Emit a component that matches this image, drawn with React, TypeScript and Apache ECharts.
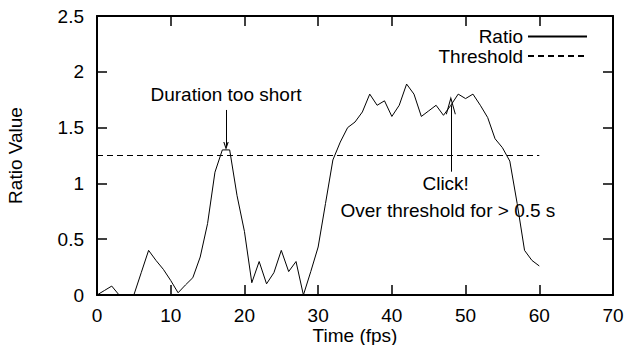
import React, { useEffect, useRef } from "react";
import * as echarts from "echarts";

const TIME = [
  0, 1, 2, 3, 4, 5, 6, 7, 8, 9, 10, 11, 12, 13, 14, 15, 16, 17, 18, 19, 20,
  21, 22, 23, 24, 25, 26, 27, 28, 29, 30, 31, 32, 33, 34, 35, 36, 37, 38, 39, 40,
  41, 42, 43, 44, 45, 46, 47, 48, 49, 50, 51, 52, 53, 54, 55, 56, 57, 58, 59, 60,
];
const RATIO = [
  0, 0.04, 0.08, 0, 0, 0, 0.2, 0.4, 0.31, 0.23, 0.13, 0.02, 0.09, 0.155, 0.34, 0.64, 1.1, 1.3, 1.3, 0.89, 0.57,
  0.11, 0.3, 0.1, 0.2, 0.4, 0.21, 0.3, 0, 0.21, 0.43, 0.82, 1.21, 1.37, 1.5, 1.55, 1.64, 1.8, 1.7, 1.74, 1.6,
  1.7, 1.89, 1.8, 1.6, 1.65, 1.7, 1.61, 1.7, 1.8, 1.76, 1.8, 1.7, 1.59, 1.4, 1.32, 1.2, 0.82, 0.4, 0.31, 0.26,
];
const THRESHOLD_X = [0, 60];
const THRESHOLD_VALUE = 1.25;

const ANNOTATIONS = [
  { text: "Duration too short", x: 17.5, y: 1.795 },
  { text: "Click!", x: 47.3, y: 0.995 },
  { text: "Over threshold for > 0.5 s", x: 47.6, y: 0.753 },
];
const ARROWS = [
  { x: 17.5, from: 1.658, to: 1.335, small: true },
  { x: 48, from: 1.105, to: 1.7, small: false },
];

const FONT = "'Liberation Sans', Arial, Helvetica, sans-serif";
const FS = 19;

const SMALL_HEAD = "path://M5,0 L10,18 L8,18 L5,7.2 L2,18 L0,18 Z";
const BIG_HEAD = "path://M5,0 L10,18 L9,18 L5,3.6 L1,18 L0,18 Z";

export default function App() {
  const ref = useRef<HTMLDivElement>(null);
  useEffect(() => {
    if (!ref.current) return;
    const chart = echarts.init(ref.current, undefined, { renderer: "svg" });
    const textStyle = { color: "#000", fontSize: FS, fontFamily: FONT };
    const axisLine = { show: true, onZero: false, lineStyle: { color: "#000", width: 2 } };
    const axisTick = { show: true, inside: true, length: 10, lineStyle: { color: "#000", width: 1.5 } };
    const legendCommon = {
      right: 36,
      padding: 0,
      orient: "vertical",
      align: "right",
      itemWidth: 59,
      itemHeight: 14,
      textStyle,
      selectedMode: false,
      itemStyle: { color: "rgba(0,0,0,0)", borderWidth: 0, opacity: 0 },
    };
    chart.setOption({
      animation: false,
      backgroundColor: "#fff",
      textStyle: { fontFamily: FONT },
      grid: { left: 97, right: 11, top: 16, bottom: 50, containLabel: false, outerBoundsMode: "none" },
      legend: [
        { ...legendCommon, data: ["Ratio"], top: 27 },
        { ...legendCommon, data: ["Threshold"], top: 46.5 },
      ],
      xAxis: [
        {
          type: "value",
          position: "bottom",
          min: 0,
          max: 70,
          interval: 10,
          axisLine,
          axisTick,
          splitLine: { show: false },
          axisLabel: { ...textStyle, margin: 12.5, lineHeight: 15 },
          name: "Time (fps)",
          nameLocation: "middle",
          nameGap: 32.5,
          nameMoveOverlap: false,
          nameTextStyle: { ...textStyle, lineHeight: 15 },
        },
        {
          type: "value",
          position: "top",
          min: 0,
          max: 70,
          interval: 10,
          axisLine,
          axisTick,
          splitLine: { show: false },
          axisLabel: { show: false },
        },
      ],
      yAxis: [
        {
          type: "value",
          position: "left",
          min: 0,
          max: 2.5,
          interval: 0.5,
          axisLine,
          axisTick,
          splitLine: { show: false },
          axisLabel: { ...textStyle, margin: 13 },
          name: "Ratio Value",
          nameLocation: "middle",
          nameGap: 72,
          nameMoveOverlap: false,
          nameTextStyle: textStyle,
        },
        {
          type: "value",
          position: "right",
          min: 0,
          max: 2.5,
          interval: 0.5,
          axisLine,
          axisTick,
          splitLine: { show: false },
          axisLabel: { show: false },
        },
      ],
      series: [
        {
          name: "Ratio",
          type: "line",
          data: TIME.map((t, i) => [t, RATIO[i]]),
          symbol: "none",
          lineStyle: { color: "#000", width: 1 },
          itemStyle: { color: "#000" },
          silent: true,
          markLine: {
            silent: true,
            label: { show: false },
            lineStyle: { color: "#000", width: 1, type: "solid" },
            symbol: ["none", "none"],
            data: ARROWS.map((a) => [
              { coord: [a.x, a.from], symbol: "none" },
              {
                coord: [a.x, a.to],
                symbol: a.small ? SMALL_HEAD : BIG_HEAD,
                symbolSize: a.small ? [5.4, 8] : [10, 18],
              },
            ]),
          },
          markPoint: {
            silent: true,
            symbol: "circle",
            symbolSize: 1,
            itemStyle: { color: "rgba(0,0,0,0)" },
            label: { show: true, position: "inside", ...textStyle },
            data: ANNOTATIONS.map((a) => ({
              coord: [a.x, a.y],
              value: a.text,
              label: { formatter: a.text },
            })),
          },
        },
        {
          name: "Threshold",
          type: "line",
          data: THRESHOLD_X.map((t) => [t, THRESHOLD_VALUE]),
          symbol: "none",
          lineStyle: { color: "#000", width: 1, type: [6, 4] },
          itemStyle: { color: "#000" },
          silent: true,
        },
      ],
    });
    return () => chart.dispose();
  }, []);
  return <div ref={ref} style={{ width: 624, height: 345, position: "absolute", left: 0, top: 0 }} />;
}
